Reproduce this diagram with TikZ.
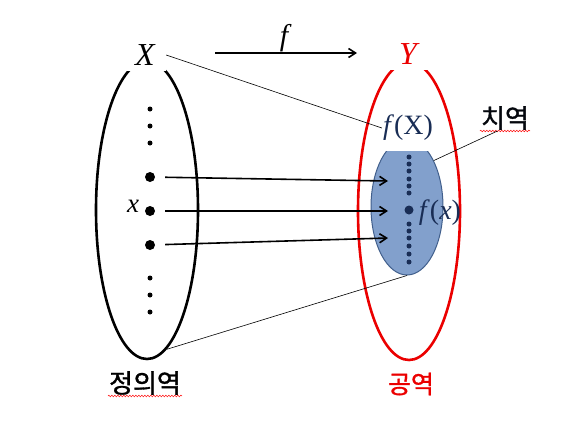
\documentclass[tikz,border=0pt]{standalone}
\usepackage{fontspec}
\setmainfont{Liberation Serif}
\newfontfamily\krfont{Noto Sans CJK KR}[FakeBold=1.2]
\usetikzlibrary{shapes.geometric,arrows.meta,decorations.pathmorphing}
\definecolor{rangefill}{RGB}{130,160,204}
\definecolor{rangeline}{RGB}{65,95,140}
\definecolor{navy}{RGB}{25,45,85}
\definecolor{setred}{RGB}{235,0,0}
\tikzset{
	>={Straight Barb[length=7pt,width=9pt]},
	setoval/.style={
		ellipse,
		draw, line width=2.6pt,
		minimum width=102pt,
		minimum height=298pt,
		inner sep=0pt},
	rangeoval/.style={
		ellipse,
		draw=rangeline, fill=rangefill, line width=1pt,
		minimum width=72pt,
		minimum height=136pt},
	bigdot/.style={circle, fill, inner sep=0pt, minimum size=10pt},
	smalldot/.style={circle, fill, inner sep=0pt, minimum size=5pt},
	tinydot/.style={circle, fill=navy, inner sep=0pt, minimum size=5pt},
	setname/.style={
		fill=white, inner sep=0pt,
		minimum width=42pt, minimum height=32pt,
		font=\fontsize{32}{34}\selectfont\itshape},
	maparrow/.style={->, line width=1.6pt, shorten <=10pt},
	pointer/.style={draw, line width=0.6pt},
	krlabel/.style={font=\fontsize{26}{28}\selectfont\krfont, inner sep=1pt},
	squiggle/.style={draw=red, line width=0.5pt, decorate,
		decoration={snake, amplitude=0.8pt, segment length=3pt}},
}

\begin{document}
\begin{tikzpicture}[x=1pt, y=-1pt]
\useasboundingbox (0,0) rectangle (570,440);

% domain and codomain
\node[setoval] (dom) at (147,210) {};
\node[setoval, draw=setred] (cod) at (409,211) {};
\node[setname] (X) at (145,55) {X};
\node[setname, text=setred] (Y) at (408,54) {Y};

% range
\begin{scope}
\clip (360,151) rectangle (460,300);
\node[rangeoval] (rng) at (407,207) {};
\end{scope}
\foreach \y in {157,164,171,179,186,193,224,231,238,246,254,262}
	\node[tinydot] (r\y) at (409,\y) {};
\node[bigdot, fill=navy, minimum size=9pt] (fx) at (409,210) {};

% points of X
\foreach \y in {109,126,143,278,295,312}
	\node[smalldot] (s\y) at (150,\y) {};
\node[bigdot] (d1) at (150,177) {};
\node[bigdot] (d2) at (150,211) {};
\node[bigdot] (d3) at (150,245) {};
\node[font=\fontsize{27}{29}\selectfont\itshape] (xname) at (133,206) {x};

\coordinate (t1) at (388,181);
\coordinate (t2) at (388,211);
\coordinate (t3) at (388,238);
\draw[maparrow] (d1) -- (t1);
\draw[maparrow] (d2) -- (t2);
\draw[maparrow] (d3) -- (t3);

% f on top
\coordinate (fs) at (215,53);
\coordinate (fe) at (357,53);
\draw[->, line width=1.6pt] (fs) -- (fe);
\node[font=\fontsize{30}{32}\selectfont\itshape] (fname) at (284,38) {f};

% labels
\node[text=navy, inner sep=1pt, font=\fontsize{28}{30}\selectfont] (fX) at (408,128) {\textit{f}(X)};
\node[text=navy, inner sep=1pt, font=\fontsize{28}{30}\selectfont] (fxname) at (440,213) {\textit{f}(\textit{x})};
\node[krlabel, text=black!85!navy] (rangename) at (505,118) {치역};
\node[krlabel] (domname) at (145,383) {정의역};
\node[krlabel, text=setred, font=\fontsize{25}{27}\selectfont\krfont] (codname) at (411,384) {공역};
\draw[squiggle] (rangename.south west) -- (rangename.south east);
\draw[squiggle] (domname.south west) -- (domname.south east);

\draw[pointer] (X.east) -- (fX.west);
\draw[pointer] (rangename.-120) -- (rng.60);
\draw[pointer] (dom.-82) -- (rng.south);
\end{tikzpicture}
\end{document}
